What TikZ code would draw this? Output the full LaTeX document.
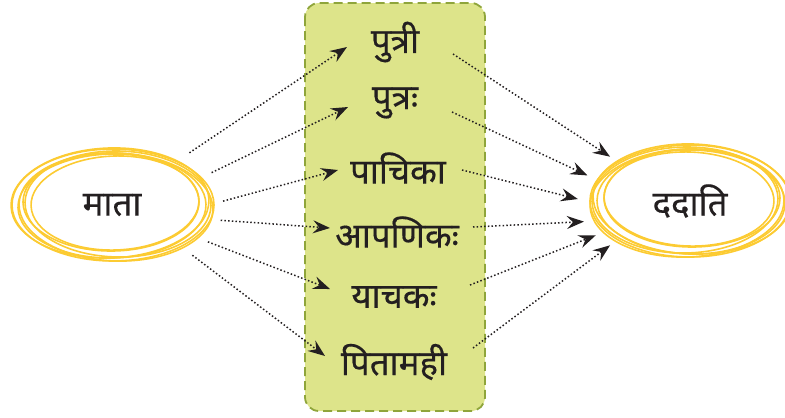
\documentclass[tikz,border=0pt]{standalone}
\usepackage{fontspec}
\newfontfamily\deva[Script=Devanagari,FakeBold=0.4]{Noto Sans}
\usetikzlibrary{shapes.geometric,arrows.meta}
\definecolor{boxfill}{HTML}{DDE48A}
\definecolor{boxline}{HTML}{8FA53B}
\definecolor{ringcol}{HTML}{FCCB32}
\definecolor{ink}{HTML}{231F20}

\begin{document}
\begin{tikzpicture}[x=1bp,y=-1bp,
    word/.style={font=\deva\fontsize{35}{40}\selectfont, text=ink, inner sep=0pt},
    hub/.style={ellipse, inner sep=0pt, font=\deva\fontsize{35}{40}\selectfont, text=ink},
    ring/.style={draw=ringcol, line width=1.6bp},
    link/.style={line width=1.5bp, dash pattern=on 1.5bp off 2.2bp, ink,
      -{Stealth[length=17bp,width=13bp,inset=6bp]}}]
  \useasboundingbox (0,0) rectangle (785,417);
  % middle box
  \draw[boxline, fill=boxfill, line width=1.8bp, dash pattern=on 9bp off 5bp,
    rounded corners=14bp] (305,3) rectangle (485,411);
  % the two hubs
  \node[hub, minimum width=222bp, minimum height=145bp] (mata) at (112,205) {माता};
  \node[hub, minimum width=224bp, minimum height=126bp] (dadati) at (690,201) {ददाति};
  \foreach \dx/\dy/\rx/\ry/\r in {1/0/101/56/0, -2/-2/99/55/2, 4/2/97/54/-2, 0/1/94/52/1,
      6/-1/93/53/-1, -1/-3/88/49/0, 3/-2/84/47/2}
    \draw[ring] ([shift={(\dx,\dy)}]mata.center) ellipse [x radius=\rx bp, y radius=\ry bp, rotate=\r];
  \foreach \dx/\dy/\rx/\ry/\r in {0/0/100/56/0, 2/-2/99/55/-2, -3/2/97/54/2, 1/1/94/52/-1,
      -5/-1/93/53/1, 2/-3/88/49/0, -1/-2/85/47/-2}
    \draw[ring] ([shift={(\dx,\dy)}]dadati.center) ellipse [x radius=\rx bp, y radius=\ry bp, rotate=\r];
  % words
  \node[word] (w1) at (395,42) {पुत्री};
  \node[word] (w2) at (395,103) {पुत्रः};
  \node[word] (w3) at (398,168) {पाचिका};
  \node[word] (w4) at (397,232) {आपणिकः};
  \node[word] (w5) at (394,297) {याचकः};
  \node[word] (w6) at (394,362) {पितामही};
  % arrows
  \foreach \w/\a/\lx/\ly/\rx/\ry/\b in {1/34.9/-48/5/58/12/151.7, 2/18.6/-47/4/57/9/166.6,
      3/2.6/-60/2/64/2/179.5, 4/-8.9/-67/-4/76/-5/191, 5/-21.1/-64/-8/76/-12/200.4,
      6/-32/-69/-6/79/-14/209.9} {
    \draw[link] (mata.\a) -- ([shift={(\lx,\ly)}]w\w.center);
    \draw[link] ([shift={(\rx,\ry)}]w\w.center) -- (dadati.\b);
  }
\end{tikzpicture}
\end{document}
